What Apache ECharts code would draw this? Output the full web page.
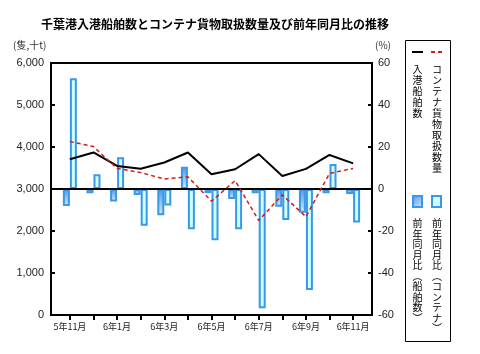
<!DOCTYPE html>
<html>
<head>
<meta charset="utf-8">
<script src="https://cdn.jsdelivr.net/npm/echarts@6/dist/echarts.min.js"></script>
<style>
  html, body { margin: 0; padding: 0; background: #fff; }
  #chart { width: 480px; height: 354px; }
</style>
</head>
<body>
<div id="chart"></div>
<script>
  // months on the x axis
  const months = ['5年11月', '5年12月', '6年1月', '6年2月', '6年3月', '6年4月', '6年5月',
    '6年6月', '6年7月', '6年8月', '6年9月', '6年10月', '6年11月'];
  // 入港船舶数 (隻)
  const ships = [3710, 3870, 3550, 3480, 3630, 3870, 3350, 3470, 3830, 3310, 3480, 3810, 3610];
  // コンテナ貨物取扱数量 (十t)
  const containers = [4130, 4010, 3490, 3390, 3240, 3290, 2710, 3200, 2250, 2860, 2340, 3370, 3490];
  // 前年同月比 (%)
  const shipYoy = [-8.1, -2.0, -5.9, -2.9, -12.5, 10.6, -1.9, -4.8, -2.0, -8.4, -11.3, -2.0, -2.4];
  const contYoy = [52.7, 7.0, 15.1, -17.5, -7.9, -19.2, -24.4, -19.2, -56.8, -14.8, -48.1, 11.9, -15.9];
  const leftTicks = [0, 1000, 2000, 3000, 4000, 5000, 6000];

  const font = '"Liberation Sans", Arial, sans-serif';
  const jp = '"Noto Sans CJK JP", sans-serif';
  const barBorder = '#3a98e8';

  const pair = arr => arr.map((v, i) => [i, v]);
  const vert = s => s.split('').join('\n');

  const chart = echarts.init(document.getElementById('chart'));
  const option = {
    animation: false,
    title: {
      text: '千葉港入港船舶数とコンテナ貨物取扱数量及び前年同月比の推移',
      left: 36,
      top: 13,
      textStyle: { fontFamily: jp, fontSize: 12, fontWeight: 'bold', color: '#000' },
    },
    grid: {
      left: 51, right: 108, top: 63, bottom: 39,
      show: true, borderColor: '#000', borderWidth: 2,
    },
    xAxis: {
      type: 'value',
      min: -0.8,
      max: 12.8,
      splitLine: { show: false },
      axisLine: { onZero: false, lineStyle: { color: '#000', width: 2 } },
      axisTick: {
        show: true, length: 5, inside: false,
        lineStyle: { color: '#000', width: 2 },
        customValues: months.map((m, i) => i),
      },
      axisLabel: {
        customValues: months.map((m, i) => i).filter(i => i % 2 === 0),
        formatter: v => months[Math.round(v)],
        fontFamily: jp, fontSize: 9, color: '#222', margin: 7,
      },
    },
    yAxis: [
      {
        type: 'value',
        min: 0, max: 6000, interval: 1000,
        splitLine: { show: false },
        axisLine: { show: true, onZero: false, lineStyle: { color: '#000', width: 2 } },
        axisTick: { show: true, inside: true, length: 4, lineStyle: { color: '#000', width: 2 } },
        axisLabel: {
          fontFamily: font, fontSize: 11, color: '#222', margin: 7,
          formatter: v => leftTicks.includes(v) ? v.toLocaleString('en-US') : '',
        },
      },
      {
        type: 'value',
        min: -60, max: 60, interval: 20,
        splitLine: { show: false },
        axisLine: { show: true, onZero: false, lineStyle: { color: '#000', width: 2 } },
        axisTick: { show: true, inside: true, length: 4, lineStyle: { color: '#000', width: 2 } },
        axisLabel: { fontFamily: font, fontSize: 11, color: '#222', margin: 6 },
      },
    ],
    series: [
      {
        name: '前年同月比（船舶数）',
        type: 'bar',
        yAxisIndex: 1,
        barWidth: 7,
        barGap: '0%',
        data: pair(shipYoy),
        itemStyle: {
          borderColor: barBorder,
          borderWidth: 2,
          color: new echarts.graphic.LinearGradient(0, 0, 0, 1, [
            { offset: 0, color: '#4d98e6' },
            { offset: 1, color: '#d6ebfc' },
          ]),
        },
        markLine: {
          silent: true,
          symbol: 'none',
          label: { show: false },
          lineStyle: { color: '#000', width: 2, type: 'solid' },
          data: [{ yAxis: 0 }],
        },
      },
      {
        name: '前年同月比（コンテナ）',
        type: 'bar',
        yAxisIndex: 1,
        barWidth: 7,
        barGap: '0%',
        data: pair(contYoy),
        itemStyle: { borderColor: barBorder, borderWidth: 2, color: '#ccffff' },
      },
      {
        name: '入港船舶数',
        type: 'line',
        yAxisIndex: 0,
        symbol: 'none',
        data: pair(ships),
        lineStyle: { color: '#000', width: 2 },
        z: 5,
      },
      {
        name: 'コンテナ貨物取扱数量',
        type: 'line',
        yAxisIndex: 0,
        symbol: 'none',
        data: pair(containers),
        lineStyle: { color: '#cc1f1f', width: 1.5, type: [4, 3] },
        z: 6,
      },
    ],
    graphic: [
      { type: 'text', left: 13, top: 40, style: { text: '(隻,十t)', font: '10px ' + jp, fill: '#333' } },
      { type: 'text', left: 375, top: 40, style: { text: '(%)', font: '10px ' + jp, fill: '#333' } },
      // legend box
      { type: 'rect', shape: { x: 405.5, y: 40.5, width: 45, height: 301 },
        style: { fill: '#fff', stroke: '#000', lineWidth: 1 } },
      { type: 'line', shape: { x1: 412, y1: 52, x2: 423, y2: 52 },
        style: { stroke: '#000', lineWidth: 2 } },
      { type: 'line', shape: { x1: 431, y1: 52, x2: 443, y2: 52 },
        style: { stroke: '#cc1f1f', lineWidth: 2, lineDash: [4, 3] } },
      { type: 'text', x: 417.5, y: 64,
        style: { text: vert('入港船舶数'), font: '10px ' + jp, lineHeight: 11, align: 'center', verticalAlign: 'top', fill: '#000' } },
      { type: 'text', x: 437, y: 64,
        style: { text: vert('コンテナ貨物取扱数量'), font: '10px ' + jp, lineHeight: 11, align: 'center', verticalAlign: 'top', fill: '#000' } },
      { type: 'rect', shape: { x: 413, y: 196, width: 9, height: 11 },
        style: {
          stroke: barBorder, lineWidth: 2,
          fill: new echarts.graphic.LinearGradient(0, 0, 1, 1, [
            { offset: 0, color: '#4d98e6' },
            { offset: 1, color: '#d6ebfc' },
          ]),
        } },
      { type: 'rect', shape: { x: 432, y: 196, width: 9, height: 11 },
        style: { stroke: barBorder, lineWidth: 2, fill: '#ccffff' } },
      { type: 'text', x: 417.5, y: 218,
        style: { text: vert('前年同月比︵船舶数︶'), font: '10px ' + jp, lineHeight: 10.5, align: 'center', verticalAlign: 'top', fill: '#000' } },
      { type: 'text', x: 437, y: 218,
        style: { text: vert('前年同月比︵コンテナ︶'), font: '10px ' + jp, lineHeight: 10.5, align: 'center', verticalAlign: 'top', fill: '#000' } },
    ],
  };
  chart.setOption(option);
</script>
</body>
</html>
